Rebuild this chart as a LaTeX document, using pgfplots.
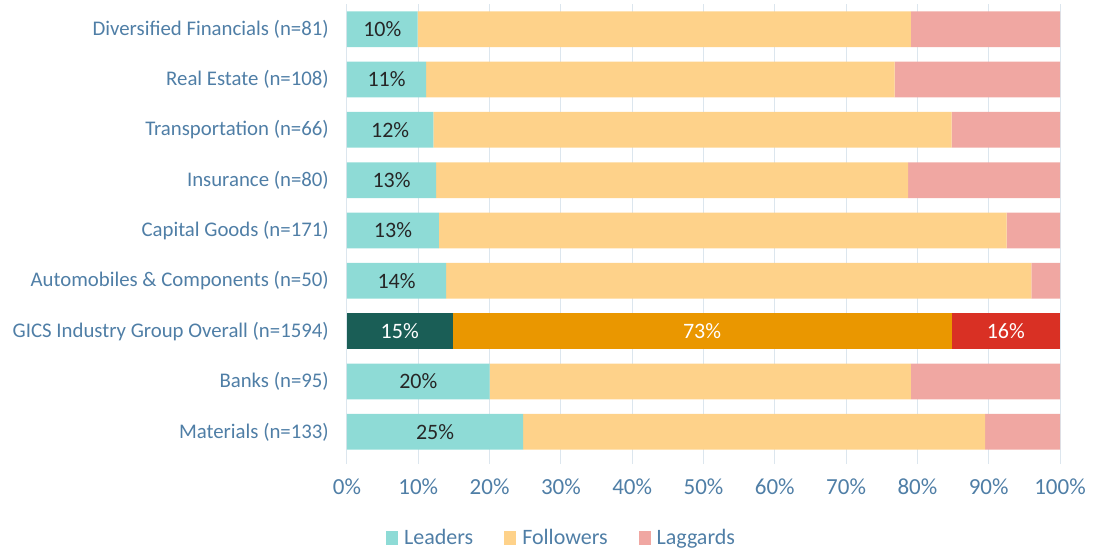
\documentclass[border=0pt]{standalone}
\usepackage{pgfplots}
\pgfplotsset{compat=1.18}
\usepackage{fontspec}
\setmainfont{Carlito}

\definecolor{leadc}{HTML}{8EDBD6}
\definecolor{follc}{HTML}{FED28A}
\definecolor{lagc}{HTML}{F0A7A2}
\definecolor{leadd}{HTML}{1A5E56}
\definecolor{folld}{HTML}{EA9700}
\definecolor{lagd}{HTML}{D93024}
\definecolor{labc}{HTML}{4F7EA6}
\definecolor{gridc}{HTML}{DCE6EE}
\definecolor{valc}{HTML}{262626}

% rows: 0 = top (Diversified Financials) ... 8 = bottom (Materials)
\pgfplotstableread{
row lead foll lag
0   9.9  69.2 20.9
1   11.1 65.7 23.2
2   12.1 72.7 15.2
3   12.5 66.2 21.3
4   12.9 79.6 7.5
5   13.9 82.1 4.0
6   0    0    0
7   20.0 59.1 20.9
8   24.7 64.8 10.5
}\sectors

\pgfplotsset{
  base/.style={
    at={(0,0)}, anchor=south west,
    width=713pt, height=453pt, scale only axis,
    xmin=0, xmax=100, ymin=-0.5, ymax=8.5, y dir=reverse,
    axis line style={draw=none},
  }
}

\begin{document}
\begin{tikzpicture}[x=1pt,y=1pt]
\useasboundingbox (-347,-95) rectangle (756,457);
\begin{axis}[base,
  xbar stacked, bar width=35.7pt,
  ytick={0,...,8},
  yticklabels={Diversified Financials (n=81), Real Estate (n=108),
    Transportation (n=66), Insurance (n=80), Capital Goods (n=171),
    Automobiles \& Components (n=50), GICS Industry Group Overall (n=1594),
    Banks (n=95), Materials (n=133)},
  yticklabel style={font=\fontsize{20.8}{24}\selectfont, text=labc, inner sep=0pt, xshift=-11pt},
  ytick style={draw=none},
  xtick={0,10,...,100},
  xticklabel={\pgfmathprintnumber{\tick}\%},
  /pgf/number format/assume math mode=true,
  xticklabel style={font=\fontsize{23}{26}\selectfont, text=labc, anchor=center, yshift=-23pt},
  xmajorgrids, major grid style={gridc, line width=1pt},
  xtick style={gridc, line width=1pt}, tick align=outside, major tick length=7pt,
  xtick pos=bottom,
  legend columns=3,
  legend style={at={(0.301,-0.179)}, anchor=center, draw=none, fill=none,
    font=\fontsize{22}{26}\selectfont, text=labc,
    /tikz/every odd column/.append style={column sep=4pt},
    /tikz/every even column/.append style={column sep=29pt}},
  legend image code/.code={\fill[#1] (0pt,-7pt) rectangle (12pt,7pt);},
]
\addplot[fill=leadc, draw=none] table[x=lead, y=row] {\sectors};
\addlegendentry{Leaders}
\addplot[fill=follc, draw=none] table[x=foll, y=row] {\sectors};
\addlegendentry{Followers}
\addplot[fill=lagc, draw=none] table[x=lag, y=row] {\sectors};
\addlegendentry{Laggards}
% overall row in darker colours
\addplot[fill=leadd, draw=none, forget plot] coordinates {(0,0) (0,1) (0,2) (0,3) (0,4) (0,5) (14.8,6) (0,7) (0,8)};
\addplot[fill=folld, draw=none, forget plot] coordinates {(0,0) (0,1) (0,2) (0,3) (0,4) (0,5) (70.0,6) (0,7) (0,8)};
\addplot[fill=lagd, draw=none, forget plot] coordinates {(0,0) (0,1) (0,2) (0,3) (0,4) (0,5) (15.2,6) (0,7) (0,8)};
\end{axis}

% value labels, centred in their segments
\begin{axis}[base, hide axis,
  nodes near coords, point meta=explicit symbolic,
  nodes near coords style={anchor=center, font=\fontsize{22}{26}\selectfont},
]
\addplot[only marks, mark=none, nodes near coords style={text=valc}] coordinates {
  (4.95,0) [10\%] (5.55,1) [11\%] (6.05,2) [12\%] (6.25,3) [13\%]
  (6.45,4) [13\%] (6.95,5) [14\%] (10.0,7) [20\%] (12.35,8) [25\%]
};
\addplot[only marks, mark=none, nodes near coords style={text=white}] coordinates {
  (7.4,6) [15\%] (49.8,6) [73\%] (92.4,6) [16\%]
};
\end{axis}
\end{tikzpicture}
\end{document}
